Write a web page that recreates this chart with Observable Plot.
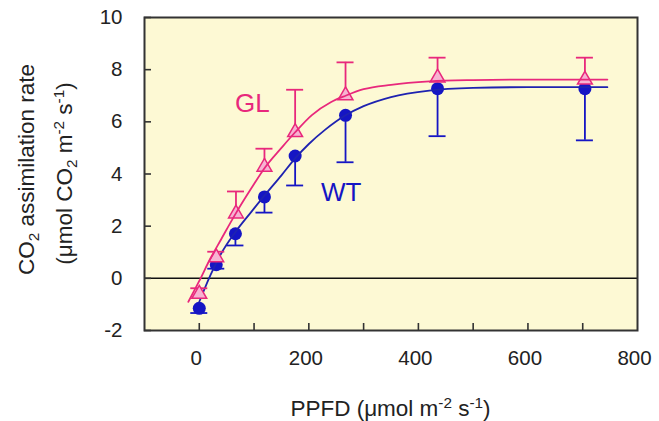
<!DOCTYPE html>
<html>
<head>
<meta charset="utf-8">
<script src="https://cdn.jsdelivr.net/npm/d3@7"></script>
<script src="https://cdn.jsdelivr.net/npm/@observablehq/plot@0.6"></script>
<style>
  html, body { margin: 0; padding: 0; background: #ffffff; }
  #chart svg { display: block; }
</style>
</head>
<body>
<div id="chart"></div>
<script>
// ---- Data ----
const ppfdGL = [0, 31, 67, 119, 175, 267, 435, 704];
const rateGL = [-0.6, 0.8, 2.48, 4.27, 5.6, 7.01, 7.69, 7.61];
const errGL  = [0.22, 0.22, 0.85, 0.7, 1.63, 1.27, 0.77, 0.85];

const ppfdWT = [0, 31, 66, 119, 175, 267, 435, 704];
const rateWT = [-1.15, 0.52, 1.71, 3.12, 4.69, 6.25, 7.27, 7.27];
const errWT  = [0.18, 0.15, 0.45, 0.6, 1.13, 1.8, 1.82, 1.98];

// fitted curves
const fitXGL = [-20, 0, 20, 40, 67, 95, 120, 150, 175, 205, 240, 267, 300, 350, 420, 500, 600, 745];
const fitYGL = [-0.9, -0.1, 0.75, 1.5, 2.5, 3.45, 4.25, 5.0, 5.6, 6.25, 6.75, 7.0, 7.25, 7.42, 7.55, 7.6, 7.62, 7.62];
const fitXWT = [0, 20, 40, 65, 95, 120, 150, 175, 200, 230, 267, 300, 350, 420, 500, 600, 745];
const fitYWT = [-0.9, 0.1, 0.95, 1.75, 2.55, 3.2, 3.95, 4.6, 5.15, 5.7, 6.25, 6.6, 6.95, 7.2, 7.3, 7.33, 7.33];

const xTicks = [0, 100, 200, 300, 400, 500, 600, 700];
const xTickLabels = [0, 200, 400, 600, 800];
const yTicks = [-2, 0, 2, 4, 6, 8, 10];

const seriesNames = ["GL", "WT"];
const seriesLabelX = [97, 259];
const seriesLabelY = [6.7, 3.28];

// ---- Build tables ----
const gl = ppfdGL.map((x, i) => ({x, y: rateGL[i], e: errGL[i]}));
const wt = ppfdWT.map((x, i) => ({x, y: rateWT[i], e: errWT[i]}));
const fitGL = fitXGL.map((x, i) => ({x, y: fitYGL[i]}));
const fitWT = fitXWT.map((x, i) => ({x, y: fitYWT[i]}));
const labels = seriesNames.map((name, i) => ({name, x: seriesLabelX[i], y: seriesLabelY[i]}));

const PINK = "#E8287C", PINK_FILL = "#F7B3D2", BLUE = "#1515C4", BLUE_LINE = "#1E22B0";
const FONT = "'Liberation Sans', Arial, Helvetica, sans-serif";

const chart = Plot.plot({
  width: 659,
  height: 421,
  marginLeft: 144,
  marginRight: 22,
  marginTop: 17,
  marginBottom: 91,
  style: {fontFamily: FONT, fontSize: "20.5px", color: "#222", background: "transparent", overflow: "visible"},
  x: {domain: [-100, 800]},
  y: {domain: [-2, 10]},
  marks: [
    Plot.frame({fill: "#FDF9D4", stroke: null}),
    Plot.ruleY([0], {stroke: "#111", strokeWidth: 1.5}),
    Plot.axisX({ticks: xTicks, tickSize: -7, tickFormat: () => "", label: null, stroke: "#333", strokeWidth: 1.6}),
    Plot.axisX({ticks: xTickLabels, tickSize: 0, tickPadding: 20, label: null, dx: -3, fill: "#222", tickFormat: d => String(d)}),
    Plot.axisY({ticks: yTicks, tickSize: -7, tickFormat: () => "", label: null, stroke: "#333", strokeWidth: 1.6}),
    Plot.axisY({ticks: yTicks, tickSize: 0, tickPadding: 22, label: null, fill: "#222", tickFormat: d => String(d)}),

    // WT
    Plot.ruleX(wt, {x: "x", y1: "y", y2: d => d.y - d.e, stroke: BLUE, strokeWidth: 1.8}),
    Plot.ruleY(wt, {x1: "x", x2: "x", y: d => d.y - d.e, insetLeft: -8.5, insetRight: -8.5, stroke: BLUE, strokeWidth: 1.8}),
    Plot.dot(wt, {x: "x", y: "y", r: 6.5, fill: BLUE, stroke: null}),
    Plot.line(fitWT, {x: "x", y: "y", curve: "monotone-x", stroke: BLUE_LINE, strokeWidth: 1.8}),

    // GL
    Plot.ruleX(gl, {x: "x", y1: "y", y2: d => d.y + d.e, stroke: PINK, strokeWidth: 1.8}),
    Plot.ruleY(gl, {x1: "x", x2: "x", y: d => d.y + d.e, insetLeft: -8.5, insetRight: -8.5, stroke: PINK, strokeWidth: 1.8}),
    Plot.dot(gl, {x: "x", y: "y", r: 5.5, symbol: "triangle", fill: PINK_FILL, stroke: PINK, strokeWidth: 1.5}),
    Plot.line(fitGL, {x: "x", y: "y", curve: "monotone-x", stroke: PINK, strokeWidth: 1.8}),

    Plot.text(labels, {x: "x", y: "y", text: "name", fontSize: 26, textAnchor: "middle", lineAnchor: "middle",
      fill: d => d.name === "GL" ? PINK : BLUE}),

    Plot.frame({stroke: "#333", strokeWidth: 2})
  ]
});

document.getElementById("chart").appendChild(chart);

// ---- Axis titles with sub/superscripts ----
const svg = d3.select(chart);
const cx = (144 + (659 - 22)) / 2;
const cy = (17 + (421 - 91)) / 2;

function addRich(sel, parts) {
  for (const p of parts) {
    const t = sel.append("tspan").text(p.t);
    if (p.sup) t.attr("font-size", "0.68em").attr("dy", "-0.55em");
    if (p.sub) t.attr("font-size", "0.68em").attr("dy", "0.35em");
    if (p.back) t.attr("dy", p.back);
  }
}

const xl = svg.append("text")
  .attr("x", cx).attr("y", 416)
  .attr("text-anchor", "middle")
  .attr("font-family", FONT).attr("font-size", 22.5).attr("fill", "#222");
addRich(xl, [
  {t: "PPFD (\u03bcmol m"}, {t: "-2", sup: true}, {t: " s", back: "0.374em"}, {t: "-1", sup: true}, {t: ")", back: "0.374em"}
]);

const yg = svg.append("g").attr("transform", "rotate(-90)")
  .attr("font-family", FONT).attr("font-size", 22.5).attr("fill", "#222").attr("text-anchor", "middle");
const yl1 = yg.append("text").attr("x", -cy + 4).attr("y", 34);
addRich(yl1, [{t: "CO"}, {t: "2", sub: true}, {t: " assimilation rate", back: "-0.238em"}]);
const yl2 = yg.append("text").attr("x", -cy).attr("y", 72);
addRich(yl2, [
  {t: "(\u03bcmol CO"}, {t: "2", sub: true}, {t: " m", back: "-0.238em"}, {t: "-2", sup: true},
  {t: " s", back: "0.374em"}, {t: "-1", sup: true}, {t: ")", back: "0.374em"}
]);
</script>
</body>
</html>
